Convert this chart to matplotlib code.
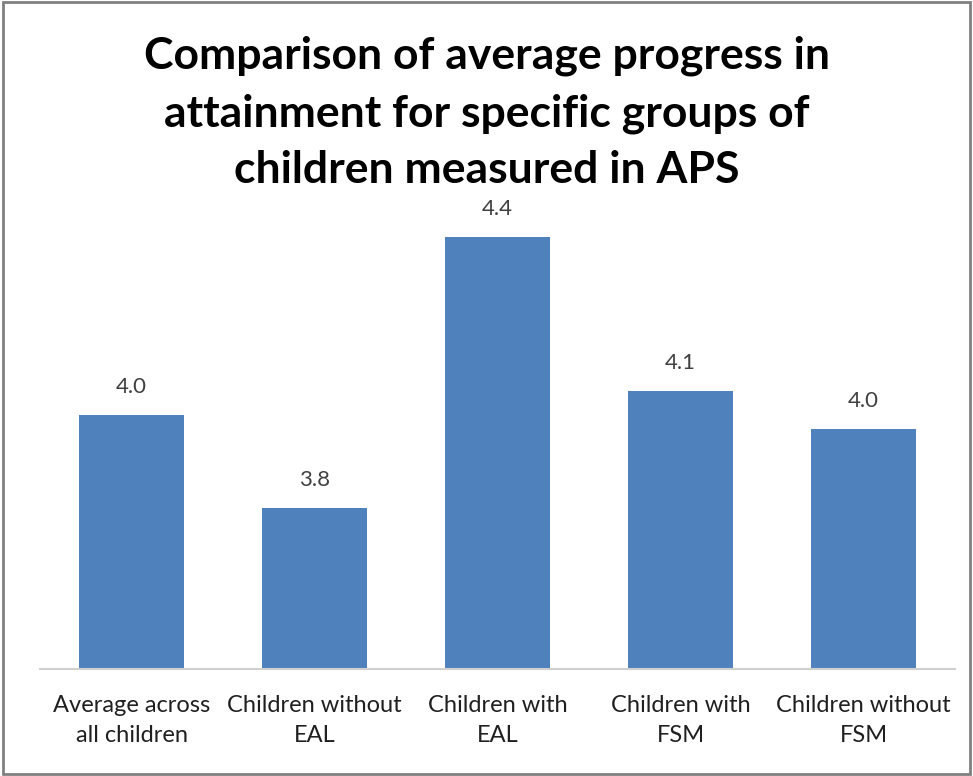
import matplotlib
matplotlib.use("Agg")
import matplotlib.pyplot as plt
from matplotlib.patches import Rectangle

categories = ["Average across\nall children", "Children without\nEAL", "Children with\nEAL",
              "Children with\nFSM", "Children without\nFSM"]
values = [4.03, 3.835, 4.40, 4.08, 4.00]
title = "Comparison of average progress in\nattainment for specific groups of\nchildren measured in APS"

W, H = 973, 776
fig = plt.figure(figsize=(W / 100, H / 100), dpi=100)
fig.patch.set_facecolor("white")
fig.patches.append(Rectangle((3 / W, 2 / H), (970 - 3) / W, (774 - 2) / H, transform=fig.transFigure,
                             fill=False, edgecolor="#808080", linewidth=2))

ax = fig.add_axes([40 / W, (H - 669) / H, (955 - 40) / W, (669 - 189) / H])
x = range(len(categories))
bars = ax.bar(x, values, width=0.57, color="#4F81BD", zorder=2)
ax.set_ylim(3.5, 4.5)
ax.set_xlim(-0.5, len(categories) - 0.5)
for xi, v in zip(x, values):
    ax.annotate(f"{v:.1f}", (xi, v), xytext=(0, 13), textcoords="offset points",
                ha="center", va="bottom", fontsize=16, color="#404040", family="Lato")
ax.set_xticks(list(x))
ax.set_xticklabels(categories, fontsize=17, color="#202020", family="Lato", linespacing=1.5)
ax.tick_params(axis="x", length=0, pad=19)
ax.set_yticks([])
for s in ["top", "right", "left"]:
    ax.spines[s].set_visible(False)
ax.spines["bottom"].set_color("#D0D0D0")
ax.spines["bottom"].set_linewidth(1.5)

fig.text(487 / W, 1 - 36 / H, title, ha="center", va="top", fontsize=32, fontweight="bold",
         family="Lato", linespacing=1.5)

fig.savefig("out.png", dpi=100)
